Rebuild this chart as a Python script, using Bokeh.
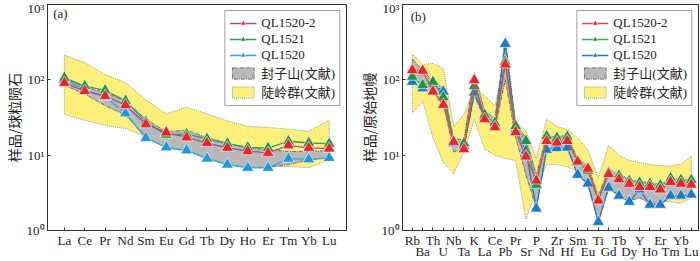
from bokeh.plotting import figure
from bokeh.models import FixedTicker, Legend, LegendItem, Label, Range1d, LinearAxis
from bokeh.layouts import row
from bokeh.embed import file_html
from bokeh.resources import INLINE

# ---------------- data: panel (a) chondrite-normalised REE ----------------
ree = ["La", "Ce", "Pr", "Nd", "Sm", "Eu", "Gd", "Tb", "Dy", "Ho", "Er", "Tm", "Yb", "Lu"]
ree_ql1520_2 = [91, 71, 61, 46, 25.7, 20, 17.2, 14.5, 12.5, 11.3, 10.7, 13.5, 12.5, 12.2]
ree_ql1521 = [106, 82.6, 72.5, 52.5, 27.9, 18.6, 19, 16.4, 14.2, 12.7, 12.4, 15.3, 14.5, 14.2]
ree_ql1520 = [100, 75, 59, 35.9, 16.9, 12.7, 11.6, 9.0, 7.5, 6.8, 6.8, 9.0, 8.8, 9.2]
ree_fzs_upper = [105, 80, 68, 52, 30, 20.5, 21.4, 17.2, 14.4, 12.5, 11.8, 11.2, 11.2, 11.5]
ree_fzs_lower = [85, 65, 45.5, 34, 17.6, 12.4, 11.5, 9.1, 7.5, 6.9, 6.9, 7.5, 8.6, 9.3]
ree_dl_upper = [214, 168, 118, 92, 54, 35.5, 43.4, 35.5, 28.5, 24.2, 23.3, 22.1, 20.8, 29]
ree_dl_lower = [34.7, 29, 24.9, 22.6, 17.6, 12.4, 12, 9.5, 7.8, 7.0, 7.0, 7.1, 6.8, 8.7]

# ---------------- data: panel (b) primitive-mantle-normalised spider ----------------
spd = ["Rb", "Ba", "Th", "U", "Nb", "Ta", "K", "La", "Ce", "Pb", "Pr", "Sr", "P", "Nd",
       "Zr", "Hf", "Sm", "Eu", "Ti", "Gd", "Tb", "Dy", "Y", "Ho", "Er", "Tm", "Yb", "Lu"]
spd_ql1520_2 = [134, 132, 70, 46.6, 15, 12, 99, 30, 23.5, 160, 20.2, 9.6, 4.6, 15.4,
                14.7, 15.4, 8.2, 6.6, 2.5, 5.6, 4.8, 4.17, 3.77, 3.77, 3.5, 4.4, 4.17, 4.05]
spd_ql1521 = [110, 85, 94, 58.7, 15.4, 14.4, 82.6, 34.4, 26.8, 175, 24.2, 15.4, 4.05, 17.9,
              17, 17.6, 8, 6.2, 2.65, 5.9, 5.35, 4.6, 4.3, 4.17, 3.97, 4.95, 4.7, 4.7]
spd_ql1520 = [94, 77, 88, 70, 14.4, 13.2, 67.6, 32, 24.7, 300, 21.9, 11.4, 1.96, 11.8,
              12.4, 12.6, 5.5, 4.2, 1.3, 3.7, 2.9, 2.4, 3.5, 2.2, 2.2, 2.9, 2.9, 3.0]
spd_fzs_upper = [190, 135, 95, 78, 16.5, 16, 125, 38, 31, 360, 26, 17, 5.5, 18,
                 17.5, 18.5, 9, 7.2, 2.9, 6.5, 5.6, 4.8, 4.5, 4.3, 4.1, 4.3, 4.2, 4.2]
spd_fzs_lower = [120, 80, 72, 50, 11, 12.5, 62, 30, 23, 100, 17, 5.5, 2.0, 12,
                 13, 13, 5.5, 4.0, 1.3, 3.6, 3.0, 2.5, 2.7, 2.3, 2.3, 2.7, 2.8, 3.0]
spd_dl_upper = [220, 160, 165, 140, 24, 35, 80, 62, 45, 200, 28, 21, 9, 30,
                24, 22, 17, 11.8, 5.0, 13.5, 10, 8.5, 8, 7.5, 7.3, 7.2, 7.6, 9.8]
spd_dl_lower = [36, 52, 17, 8, 5.7, 11, 30, 12, 10, 9, 8.5, 1.4, 3.5, 7.5,
                7.5, 7, 6, 4, 1.5, 3.7, 3.2, 2.5, 2.7, 2.4, 2.5, 2.4, 2.3, 2.7]

series_names = ["QL1520-2", "QL1521", "QL1520"]
band_names = ["封子山(文献)", "陡岭群(文献)"]
y_ticks = [1, 10, 100, 1000]
y_tick_labels = ["10⁰", "10¹", "10²", "10³"]

SERIF = "Liberation Serif, Noto Sans CJK SC"
CJK = "Noto Sans CJK SC, Liberation Serif"
TXT = "#222222"
FRAME = "#333333"


def panel(names, s_red, s_green, s_blue, g_up, g_lo, y_up, y_lo, ylabel, tag,
          x_range, borders, line_cols, mark_cols, two_rows, tag_xy):
    left, right, top, bottom = borders
    p = figure(width=350, height=261, y_axis_type="log", x_range=x_range,
               y_range=Range1d(1, 1000), output_backend="svg", toolbar_location=None,
               min_border_left=left, min_border_right=right, min_border_top=top,
               min_border_bottom=bottom, title=None)
    p.background_fill_color = "white"
    p.border_fill_color = "white"
    p.outline_line_color = FRAME
    p.outline_line_width = 1
    p.xgrid.visible = False
    p.ygrid.visible = False

    xs = list(range(len(names)))
    # bands
    yb = p.patch(xs + xs[::-1], y_up + y_lo[::-1], fill_color="#fcf07a", fill_alpha=1,
                 line_color="#9a9a9a", line_dash="1 1", line_width=1)
    gb = p.patch(xs + xs[::-1], g_up + g_lo[::-1], fill_color="#b8b8b8", fill_alpha=1,
                 line_color="#6f6f6f", line_dash="4 1 1 1", line_width=1)

    rends = {}
    order = [("QL1520", s_blue, 2), ("QL1521", s_green, 1), ("QL1520-2", s_red, 0)]
    for name, vals, k in order:
        ln = p.line(xs, vals, line_color=line_cols[k], line_width=1.3)
        mk = p.scatter(xs, vals, marker="triangle", size=12, fill_color=mark_cols[k],
                       line_color="white", line_width=0.6)
        rends[name] = [ln, mk]

    items = [LegendItem(label=n, renderers=rends[n]) for n in series_names]
    items.append(LegendItem(label=band_names[0], renderers=[gb]))
    items.append(LegendItem(label=band_names[1], renderers=[yb]))
    leg = Legend(items=items, location="top_right", margin=6, padding=4, spacing=0,
                 label_height=14, glyph_height=14, glyph_width=27, label_standoff=5,
                 border_line_color="#444444", border_line_width=1,
                 label_text_font=SERIF, label_text_font_size="13px",
                 label_text_color=TXT, background_fill_alpha=1)
    p.add_layout(leg)

    # axes
    p.xaxis.ticker = FixedTicker(ticks=xs)
    if two_rows:
        p.xaxis.major_label_overrides = {i: (n if i % 2 == 0 else "")
                                         for i, n in enumerate(names)}
    else:
        p.xaxis.major_label_overrides = {i: n for i, n in enumerate(names)}
    p.yaxis.ticker = FixedTicker(ticks=y_ticks)
    p.yaxis.major_label_overrides = {t: l for t, l in zip(y_ticks, y_tick_labels)}
    for ax in (p.xaxis, p.yaxis):
        ax.axis_line_color = FRAME
        ax.major_tick_line_color = FRAME
        ax.major_tick_in = 3
        ax.major_tick_out = 0
        ax.minor_tick_line_color = None
        ax.major_label_text_font = SERIF
        ax.major_label_text_font_size = "13px"
        ax.major_label_text_color = TXT
    p.xaxis.major_label_standoff = 2
    p.xaxis.axis_label = None
    p.yaxis.major_label_standoff = 3
    p.yaxis.axis_label = ylabel
    p.yaxis.axis_label_text_font = CJK
    p.yaxis.axis_label_text_font_style = "normal"
    p.yaxis.axis_label_text_font_size = "14px"
    p.yaxis.axis_label_text_color = TXT
    p.yaxis.axis_label_standoff = 0

    if two_rows:
        odd = [i for i in xs if i % 2 == 1]
        ax2 = LinearAxis(ticker=FixedTicker(ticks=odd),
                         major_label_overrides={i: names[i] for i in odd},
                         axis_line_color=None, major_tick_line_color=None,
                         minor_tick_line_color=None, major_tick_in=0, major_tick_out=0,
                         major_label_standoff=-7, major_label_text_font=SERIF,
                         major_label_text_font_size="13px", major_label_text_color=TXT)
        p.add_layout(ax2, "below")

    p.add_layout(Label(x=tag_xy[0], y=tag_xy[1], text=tag, text_font=SERIF,
                       text_font_size="13px", text_color=TXT, text_baseline="middle",
                       text_align="left"))
    return p


pa = panel(ree, ree_ql1520_2, ree_ql1521, ree_ql1520, ree_fzs_upper, ree_fzs_lower,
           ree_dl_upper, ree_dl_lower, "样品/球粒陨石", "(a)",
           Range1d(-0.83, 13.85), (41, 4, 4, 26),
           ["#9a4f98", "#2f9e4a", "#2fa6e0"], ["#e8262a", "#1a9640", "#1e9ad8"],
           False, (-0.55, 750))

pb = panel(spd, spd_ql1520_2, spd_ql1521, spd_ql1520, spd_fzs_upper, spd_fzs_lower,
           spd_dl_upper, spd_dl_lower, "样品/原始地幔", "(b)",
           Range1d(-0.95, 27.7), (52, 2, 4, 26),
           ["#e5484f", "#3aaa50", "#1f78c8"], ["#e8262a", "#1a9640", "#1a7cc8"],
           True, (-0.15, 690))

layout = row(pa, pb)
open("out.html", "w").write(file_html(layout, INLINE))
